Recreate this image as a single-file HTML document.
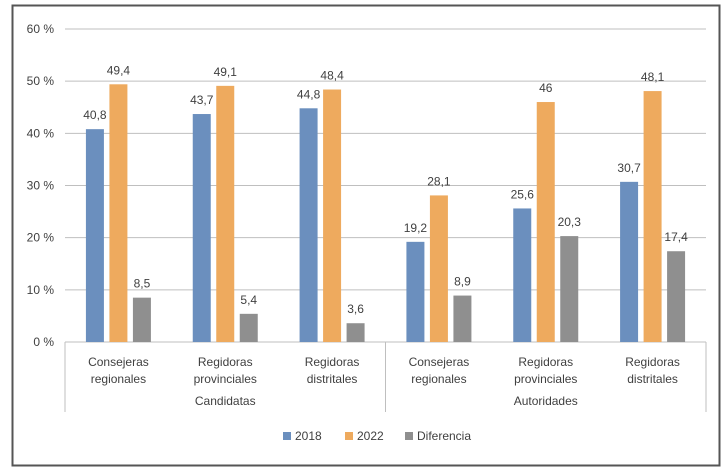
<!DOCTYPE html>
<html><head><meta charset="utf-8"><style>
body{margin:0;background:#fff;}
svg{display:block;font-family:"Liberation Sans",sans-serif;}
</style></head><body>
<svg id="chart" width="727" height="472">
<rect x="12.5" y="5.5" width="707" height="460" fill="#fff" stroke="#555" stroke-width="2"/>
</svg>
<script>
const categories=["Consejeras\nregionales","Regidoras\nprovinciales","Regidoras\ndistritales","Consejeras\nregionales","Regidoras\nprovinciales","Regidoras\ndistritales"];
const groups=["Candidatas","Autoridades"];
const s2018=[40.8,43.7,44.8,19.2,25.6,30.7];
const s2022=[49.4,49.1,48.4,28.1,46,48.1];
const sDiff=[8.5,5.4,3.6,8.9,20.3,17.4];
const ticks=[0,10,20,30,40,50,60];
const seriesNames=["2018","2022","Diferencia"];
const colors=["#6b8fbe","#eeaa5e","#8f8f8f"];
const NS="http://www.w3.org/2000/svg";
const svg=document.getElementById('chart');
const x0=65,x1=706,y0=342,yTop=29;
const yS=v=>y0-(v/60)*(y0-yTop);
const bw=(x1-x0)/categories.length;
function el(t,a,txt){const e=document.createElementNS(NS,t);for(const k in a)e.setAttribute(k,a[k]);if(txt!==undefined)e.textContent=txt;svg.appendChild(e);return e;}
ticks.forEach(t=>{
 if(t>0){const l=el('line',{x1:x0,x2:x1,y1:yS(t),y2:yS(t),stroke:'#bfbfbf','stroke-width':1});
 
 }
 const tx=el('text',{x:54,y:yS(t)+4,'text-anchor':'end','font-size':12,fill:'#404040'},t+' %');
 
 
});
const ax=el('line',{x1:x0,x2:x1,y1:y0,y2:y0,stroke:'#bfbfbf','stroke-width':1});


[x0,x0+3*bw,x1].forEach(x=>{const l=el('line',{x1:x,x2:x,y1:y0,y2:412,stroke:'#bfbfbf','stroke-width':1});
 
 });
const series=[s2018,s2022,sDiff];
categories.forEach((c,i)=>{
 const cx=x0+bw*(i+0.5);
 series.forEach((s,j)=>{
  const bx=cx+(j-1)*23.5-9;
  const r=el('rect',{x:bx,y:yS(s[i]),width:18,height:y0-yS(s[i]),fill:colors[j]});
  
  
  const t=el('text',{x:bx+9,y:yS(s[i])-10,'text-anchor':'middle','font-size':12,fill:'#404040'},String(s[i]).replace('.',','));
  
  
 });
 c.split('\n').forEach((ln,k)=>{
  const t=el('text',{x:cx,y:366+k*17,'text-anchor':'middle','font-size':12,fill:'#404040'},ln);
  
  
 });
});
groups.forEach((g,i)=>{
 const t=el('text',{x:x0+bw*(3*i+1.5),y:405,'text-anchor':'middle','font-size':12,fill:'#404040'},g);
 
 
});
const lx=[283,345,405];
seriesNames.forEach((n,j)=>{
 const r=el('rect',{x:lx[j],y:432,width:8,height:8,fill:colors[j]});
 
 
 const t=el('text',{x:lx[j]+12,y:440,'font-size':12,fill:'#404040'},n);
 
 
});
</script>
</body></html>
